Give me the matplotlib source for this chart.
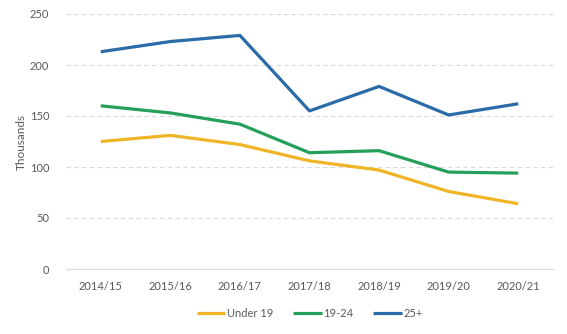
import matplotlib.pyplot as plt

years = ["2014/15", "2015/16", "2016/17", "2017/18", "2018/19", "2019/20", "2020/21"]
under19 = [125, 131, 122, 106, 97, 76, 64]
age19_24 = [160, 153, 142, 114, 116, 95, 94]
age25plus = [213, 223, 229, 155, 179, 151, 162]

plt.rcParams['font.family'] = ['Lato', 'DejaVu Sans']
grey = '#595959'

fig = plt.figure(figsize=(5.67, 3.34), dpi=100)
ax = fig.add_axes([66/567, 1 - 269/334, 487/567, 255/334])

x = range(len(years))
ax.plot(x, under19, color='#F0B526', lw=2.3, label='Under 19', solid_capstyle='butt')
ax.plot(x, age19_24, color='#25A05A', lw=2.3, label='19-24', solid_capstyle='butt')
ax.plot(x, age25plus, color='#2A6BA8', lw=2.3, label='25+', solid_capstyle='butt')

ax.set_xlim(-0.5, len(years) - 0.5)
ax.set_ylim(0, 250)
ax.set_yticks(range(0, 251, 50))
ax.set_xticks(list(x))
ax.set_xticklabels(years)
ax.yaxis.grid(True, color='#D9D9D9', ls=(0, (4, 3)), lw=0.8)
ax.set_axisbelow(True)
for s in ['top', 'right', 'left']:
    ax.spines[s].set_visible(False)
ax.spines['bottom'].set_color('#D9D9D9')
ax.tick_params(length=0, colors=grey, labelsize=8)
ax.tick_params(axis='x', pad=9)
ax.tick_params(axis='y', pad=12)
ax.set_ylabel('Thousands', color=grey, fontsize=8.5, labelpad=2)

ax.legend(loc='upper center', bbox_to_anchor=(0.5, -0.115), ncol=3, frameon=False,
          fontsize=8, labelcolor=grey, handlelength=2.6, handletextpad=0.1,
          columnspacing=1.8)

fig.savefig('out.png', dpi=100)
